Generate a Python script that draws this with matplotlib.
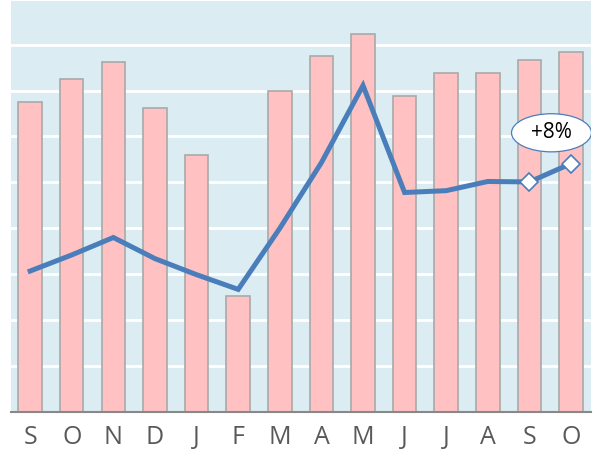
import matplotlib
matplotlib.use("Agg")
import matplotlib.pyplot as plt
from matplotlib.patches import Ellipse

# Data
months = ['S', 'O', 'N', 'D', 'J', 'F', 'M', 'A', 'M', 'J', 'J', 'A', 'S', 'O']
bar_values = [6.74, 7.25, 7.63, 6.61, 5.59, 2.53, 7.00, 7.76, 8.23, 6.88, 7.39, 7.38, 7.67, 7.83]
line_values = [3.07, 3.42, 3.80, 3.34, 2.99, 2.67, 4.00, 5.43, 7.11, 4.78, 4.82, 5.02, 5.01, 5.41]
callout_text = '+8%'

bg_color = '#dbecf2'
bar_color = '#ffc1c2'
bar_edge = '#a9a9a9'
line_color = '#4a7ebb'

fig = plt.figure(figsize=(5.99, 4.59), dpi=100)
ax = fig.add_axes([11 / 599, 47 / 459, 580 / 599, 411 / 459])
ax.set_facecolor(bg_color)

x = list(range(len(months)))
ax.bar(x, bar_values, width=0.565, color=bar_color, edgecolor=bar_edge,
       linewidth=1.2, zorder=2)

ax.plot(x, line_values, color=line_color, linewidth=3.6,
        solid_joinstyle='miter', zorder=3)
# white diamonds on the last two points
ax.plot(x[-2:], line_values[-2:], linestyle='none', marker='D', markersize=9,
        markerfacecolor='white', markeredgecolor=line_color,
        markeredgewidth=1.2, zorder=4)

# callout
ell = Ellipse((12.53, 6.08), width=1.92, height=0.83, facecolor='white',
              edgecolor=line_color, linewidth=0.9, zorder=5)
ax.add_patch(ell)
ax.text(12.53, 6.08, callout_text, ha='center', va='center', fontsize=15,
        family='Open Sans', color='black', zorder=6)

ax.set_xlim(-0.46, 13.48)
ax.set_ylim(0, 8.95)
ax.set_yticks(range(1, 9))
ax.yaxis.grid(True, color='white', linewidth=2, zorder=1)
ax.set_axisbelow(True)
ax.tick_params(axis='y', left=False, labelleft=False)
ax.tick_params(axis='x', bottom=False, pad=6)
ax.set_xticks(x)
ax.set_xticklabels(months, fontsize=18, color='#595959', family='Open Sans')

for side in ['top', 'right', 'left']:
    ax.spines[side].set_visible(False)
ax.spines['bottom'].set_color('#888888')
ax.spines['bottom'].set_linewidth(1.5)

fig.savefig('out.png', dpi=100)
